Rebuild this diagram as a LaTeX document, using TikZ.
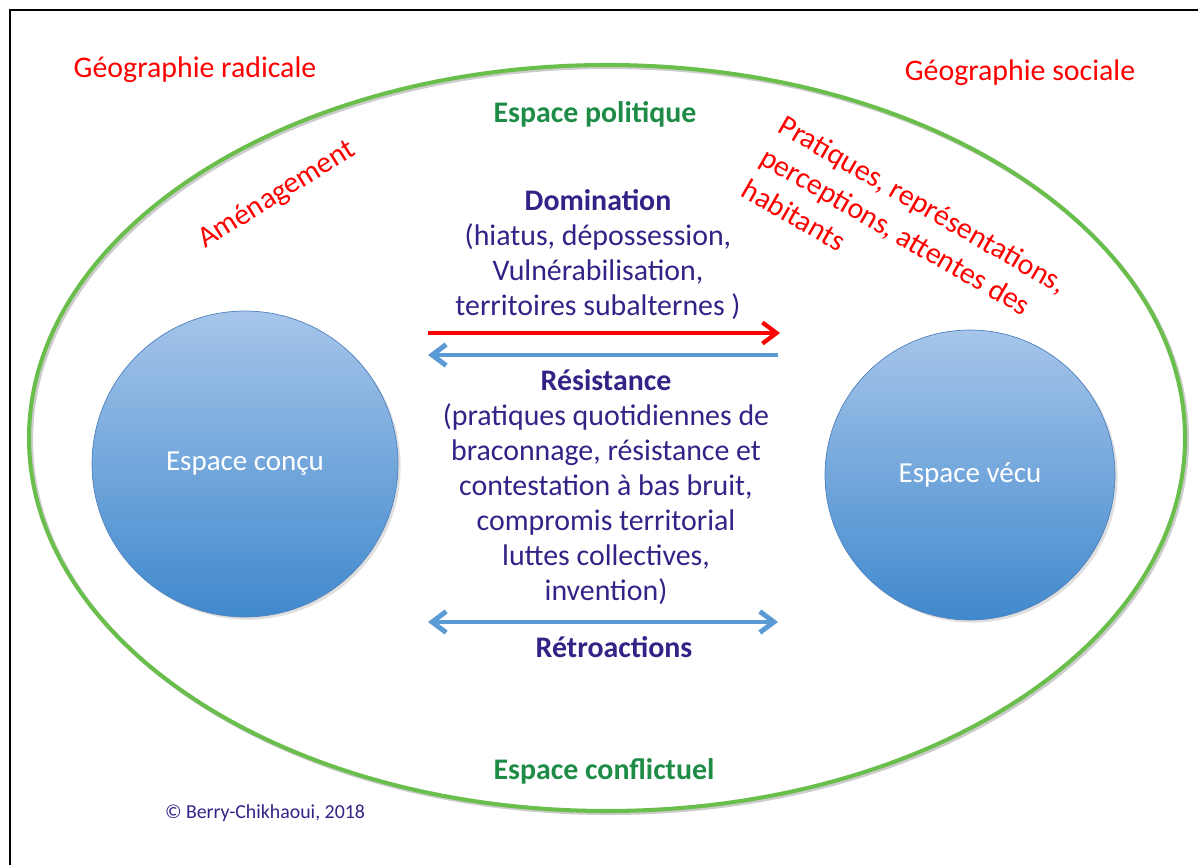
\documentclass[tikz,border=0pt]{standalone}
\usepackage{fontspec}
\setmainfont{Carlito}
\usetikzlibrary{arrows.meta,shadows}
\definecolor{ovalgreen}{RGB}{106,190,76}
\definecolor{titlegreen}{RGB}{30,140,70}
\definecolor{inkpurple}{RGB}{50,35,135}
\definecolor{flowblue}{RGB}{91,155,213}
\definecolor{discedge}{RGB}{79,129,189}
\definecolor{disctop}{RGB}{166,197,234}
\definecolor{discbottom}{RGB}{64,137,205}

\begin{document}
\begin{tikzpicture}[x=0.02cm,y=-0.02cm]
\tikzset{
  geo label/.style = {text=red, font=\fontsize{17}{21}\selectfont},
  space label/.style = {text=titlegreen, font=\bfseries\fontsize{17}{20}\selectfont},
  body text/.style = {text=inkpurple, align=center, font=\fontsize{17}{19.9}\selectfont},
  disc/.style = {circle, draw=discedge, top color=disctop, bottom color=discbottom,
    text=white, font=\fontsize{16.5}{19}\selectfont,
    drop shadow={opacity=0.25, shadow xshift=1.5pt, shadow yshift=-1.5pt}},
  flow/.style = {line width=2.4pt, -{Straight Barb[length=8pt,width=12pt]}}
}
\useasboundingbox (0,0) rectangle (1198,865);
% cadre
\draw[line width=1.2pt] (10,865) -- (10,10) -- (1198,10);
% ovale
\draw[black!40, opacity=0.5, line width=2.3pt] (609,440) ellipse [x radius=578, y radius=373];
\draw[ovalgreen, line width=2.3pt] (607,438) ellipse [x radius=578, y radius=373];

\node[geo label] (radicale) at (195,70) {Géographie radicale};
\node[geo label] (sociale) at (1020,73) {Géographie sociale};
\node[space label] (politique) at (595,114) {Espace politique};
\node[space label] (conflictuel) at (604,771) {Espace conflictuel};
\node[geo label, rotate=32] (amenag) at (277,195) {Aménagement};
\node[geo label, rotate=-30, anchor=north west, align=left, inner sep=0pt] (pratiques) at (787,113)
  {Pratiques, représentations,\\perceptions, attentes des\\habitants};

% les deux espaces
\node[disc, minimum size=6.12cm] (concu) at (245,464) {\raisebox{-2pt}{Espace conçu}};
\node[disc, minimum size=5.8cm] (vecu) at (970,475) {\raisebox{-2pt}{Espace vécu}};

% rapports
\node[body text] (domination) at (598,255)
  {\textbf{Domination}\\(hiatus, dépossession,\\Vulnérabilisation,\\territoires subalternes )};
\coordinate (domL) at (428,333);
\coordinate (domR) at (780,333);
\draw[flow, red] (domL) -- (domR);
\coordinate (resR) at (778,355);
\coordinate (resL) at (428,355);
\draw[flow, flowblue, line width=2.8pt] (resR) -- (resL);
\node[body text] (resistance) at (606,487)
  {\textbf{Résistance}\\(pratiques quotidiennes de\\braconnage, résistance et\\contestation à bas bruit,\\compromis territorial\\luttes collectives,\\invention)};
\coordinate (retroL) at (428,622);
\coordinate (retroR) at (778,622);
\draw[flow, flowblue, line width=2.8pt, {Straight Barb[length=8pt,width=12pt]}-{Straight Barb[length=8pt,width=12pt]}] (retroL) -- (retroR);
\node[body text, font=\bfseries\fontsize{17}{19.9}\selectfont] (retro) at (614,647) {Rétroactions};

\node[text=inkpurple, font=\fontsize{11.3}{13}\selectfont] (credit) at (265,813) {© Berry-Chikhaoui, 2018};
\end{tikzpicture}
\end{document}
